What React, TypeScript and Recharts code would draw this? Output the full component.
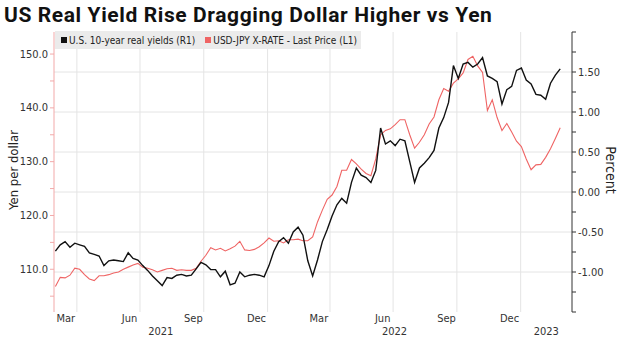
import React from 'react';
import { ComposedChart, Line, XAxis, YAxis, ReferenceLine } from 'recharts';

// weekly observations, first point Mon 1 Mar 2021
const firstWeek = '2021-03-01';

// U.S. 10-year real yields, percent (R1)
const realYield = [
  -0.74, -0.66, -0.62, -0.69, -0.64, -0.66, -0.68, -0.76, -0.78, -0.80,
  -0.92, -0.86, -0.85, -0.86, -0.87, -0.76, -0.83, -0.85, -0.92, -0.98,
  -1.05, -1.11, -1.17, -1.07, -1.08, -1.04, -1.03, -1.05, -1.04, -0.96,
  -0.88, -0.91, -0.97, -0.97, -1.06, -0.99, -1.16, -1.14, -1.00, -1.06,
  -1.04, -1.03, -1.04, -1.06, -0.92, -0.74, -0.62, -0.57, -0.64, -0.50,
  -0.44, -0.54, -0.86, -1.05, -0.85, -0.62, -0.47, -0.30, -0.16, -0.08,
  -0.14, 0.12, 0.30, 0.21, 0.18, 0.12, 0.27, 0.80, 0.60, 0.64,
  0.58, 0.66, 0.64, 0.38, 0.12, 0.30, 0.36, 0.43, 0.52, 0.80,
  0.93, 1.12, 1.58, 1.42, 1.60, 1.62, 1.56, 1.60, 1.68, 1.45,
  1.42, 1.38, 1.10, 1.28, 1.32, 1.52, 1.55, 1.40, 1.35, 1.22,
  1.21, 1.16, 1.36, 1.46, 1.54,
];

// USD-JPY last price (L1)
const usdJpy = [
  106.8, 108.5, 108.4, 108.9, 110.2, 110.0, 109.0, 108.2, 107.9, 108.8,
  108.8, 109.0, 109.3, 109.5, 110.0, 110.4, 110.8, 111.1, 110.4, 110.2,
  109.9, 109.5, 109.8, 110.1, 110.2, 109.8, 109.9, 109.8, 109.8, 110.2,
  111.5, 112.6, 114.0, 113.6, 113.9, 113.4, 113.8, 114.3, 115.2, 113.6,
  113.5, 113.7, 114.2, 114.9, 115.8, 115.2, 115.3, 114.9, 115.5, 115.5,
  115.6, 115.3, 115.3, 116.0, 118.8, 121.0, 123.0, 123.8, 125.4, 128.4,
  128.4, 130.4, 129.6, 128.6, 127.8, 127.4, 130.5, 135.0, 135.8, 136.1,
  136.9, 137.8, 137.8, 135.0, 132.5, 133.6, 135.0, 137.0, 138.3, 141.5,
  143.6, 143.1, 144.6, 145.4, 146.5, 149.0, 149.6, 147.8, 146.6, 139.5,
  141.5, 138.2, 135.8, 137.1, 135.5, 133.8, 132.8, 130.5, 128.5, 129.4,
  129.5, 130.8, 132.4, 134.3, 136.3,
];

const monthTicks = [
  ['2021-03-16', 'Mar'], ['2021-06-16', 'Jun'], ['2021-09-16', 'Sep'], ['2021-12-16', 'Dec'],
  ['2022-03-16', 'Mar'], ['2022-06-16', 'Jun'], ['2022-09-16', 'Sep'], ['2022-12-16', 'Dec'],
];
const years = [2021, 2022, 2023];
const quarterLines = [
  '2021-04-01', '2021-07-01', '2021-10-01', '2022-01-01',
  '2022-04-01', '2022-07-01', '2022-10-01', '2023-01-01',
];
const leftTicks = [105, 110, 115, 120, 125, 130, 135, 140, 145, 150];
const rightTicks = [-1.5, -1.25, -1, -0.75, -0.5, -0.25, 0, 0.25, 0.5, 0.75, 1, 1.25, 1.5, 1.75, 2];
const rightGrid = [-1, -0.5, 0, 0.5, 1, 1.5];

const dayOf = (s: string) => Math.round((Date.parse(s) - Date.parse(firstWeek)) / 864e5);
const xMin = dayOf('2021-02-27');
const xMax = dayOf('2023-03-16');

const data = usdJpy.map((v, i) => ({ day: i * 7, jpy: v, yld: realYield[i] }));

const monthLabel = new Map<number, string>(monthTicks.map(([d, m]) => [dayOf(d), m]));
const yearLabel = new Map<number, string>(
  years.map((y) => {
    const a = Math.max(xMin, dayOf(`${y}-01-01`));
    const b = Math.min(xMax, dayOf(`${y + 1}-01-01`));
    return [Math.round((a + b) / 2), String(y)];
  })
);
const xTicks = [...monthLabel.keys(), ...yearLabel.keys()].sort((a, b) => a - b);

const FONT = '"DejaVu Sans Condensed", "DejaVu Sans", sans-serif';
const TEXT = '#333';

const DateTick = ({ x, y, payload }: any) => {
  const yr = yearLabel.get(payload.value);
  return (
    <text x={x} y={yr ? y + 19 : y + 6} textAnchor="middle" dominantBaseline="central"
      fontFamily={FONT} fontSize={11} fill={TEXT}>
      {yr ?? monthLabel.get(payload.value)}
    </text>
  );
};

const LeftTick = ({ x, y, payload }: any) =>
  payload.value % 10 === 0 ? (
    <text x={x} y={y} textAnchor="end" dominantBaseline="central" fontFamily={FONT} fontSize={11} fill={TEXT}>
      {payload.value.toFixed(1)}
    </text>
  ) : <g />;

const RightTick = ({ x, y, payload }: any) =>
  rightGrid.includes(payload.value) ? (
    <text x={x} y={y} textAnchor="start" dominantBaseline="central" fontFamily={FONT} fontSize={11} fill={TEXT}>
      {payload.value.toFixed(2)}
    </text>
  ) : <g />;

export default function App() {
  return (
    <div style={{ position: 'relative', width: 624, height: 337, background: '#fff', overflow: 'hidden' }}>
      <style>{'body{margin:0}'}</style>
      <div style={{
        position: 'absolute', left: 4, top: 3, fontFamily: 'Roboto, sans-serif', fontWeight: 700,
        fontSize: 21, letterSpacing: 0.6, color: '#111', whiteSpace: 'nowrap', lineHeight: '24px',
      }}>
        US Real Yield Rise Dragging Dollar Higher vs Yen
      </div>
      <ComposedChart width={624} height={337} data={data} margin={{ top: 32, right: 0, bottom: 0, left: 0 }}>
        <XAxis dataKey="day" type="number" domain={[xMin, xMax]} allowDataOverflow ticks={xTicks} interval={0}
          tick={<DateTick />} tickLine={false} axisLine={false} tickSize={0} tickMargin={0} height={25} />
        <YAxis yAxisId="l" orientation="left" width={54} domain={[102.06, 154.1]} allowDataOverflow
          ticks={leftTicks} interval={0} tick={<LeftTick />} tickSize={4} tickMargin={2}
          axisLine={{ stroke: '#f2a9a9' }} tickLine={{ stroke: '#f2a9a9' }} />
        <YAxis yAxisId="r" orientation="right" width={52} domain={[-1.5, 2]} allowDataOverflow
          ticks={rightTicks} interval={0} tick={<RightTick />} tickSize={4} tickMargin={2}
          axisLine={{ stroke: '#333' }} tickLine={{ stroke: '#333' }} />
        {rightGrid.map((v) => (
          <ReferenceLine key={'h' + v} yAxisId="r" y={v} stroke="#e4e4e4" strokeWidth={1} />
        ))}
        {quarterLines.map((d) => (
          <ReferenceLine key={d} yAxisId="r" x={dayOf(d)} stroke="#e4e4e4" strokeWidth={1} />
        ))}
        <Line yAxisId="l" dataKey="jpy" stroke="#ef6464" strokeWidth={1.1} dot={false} isAnimationActive={false} />
        <Line yAxisId="r" dataKey="yld" stroke="#111" strokeWidth={1.4} dot={false} isAnimationActive={false} />
      </ComposedChart>
      <div style={{
        position: 'absolute', left: 55, top: 31, width: 306, height: 18, background: '#ebebeb',
        fontFamily: FONT, fontSize: 10, color: '#222', display: 'flex', alignItems: 'center', whiteSpace: 'nowrap',
      }}>
        <span style={{ width: 6, height: 6, background: '#111', marginLeft: 6, marginRight: 2 }} />
        <span>U.S. 10-year real yields (R1)</span>
        <span style={{ width: 6, height: 6, background: '#ef6464', marginLeft: 10, marginRight: 2 }} />
        <span>USD-JPY X-RATE - Last Price (L1)</span>
      </div>
      <div style={{
        position: 'absolute', left: 13, top: 170, transform: 'translate(-50%, -50%) rotate(-90deg)',
        fontFamily: FONT, fontSize: 13, color: '#222', whiteSpace: 'nowrap',
      }}>
        Yen per dollar
      </div>
      <div style={{
        position: 'absolute', left: 611, top: 170, transform: 'translate(-50%, -50%) rotate(90deg)',
        fontFamily: FONT, fontSize: 14, color: '#222', whiteSpace: 'nowrap',
      }}>
        Percent
      </div>
    </div>
  );
}
